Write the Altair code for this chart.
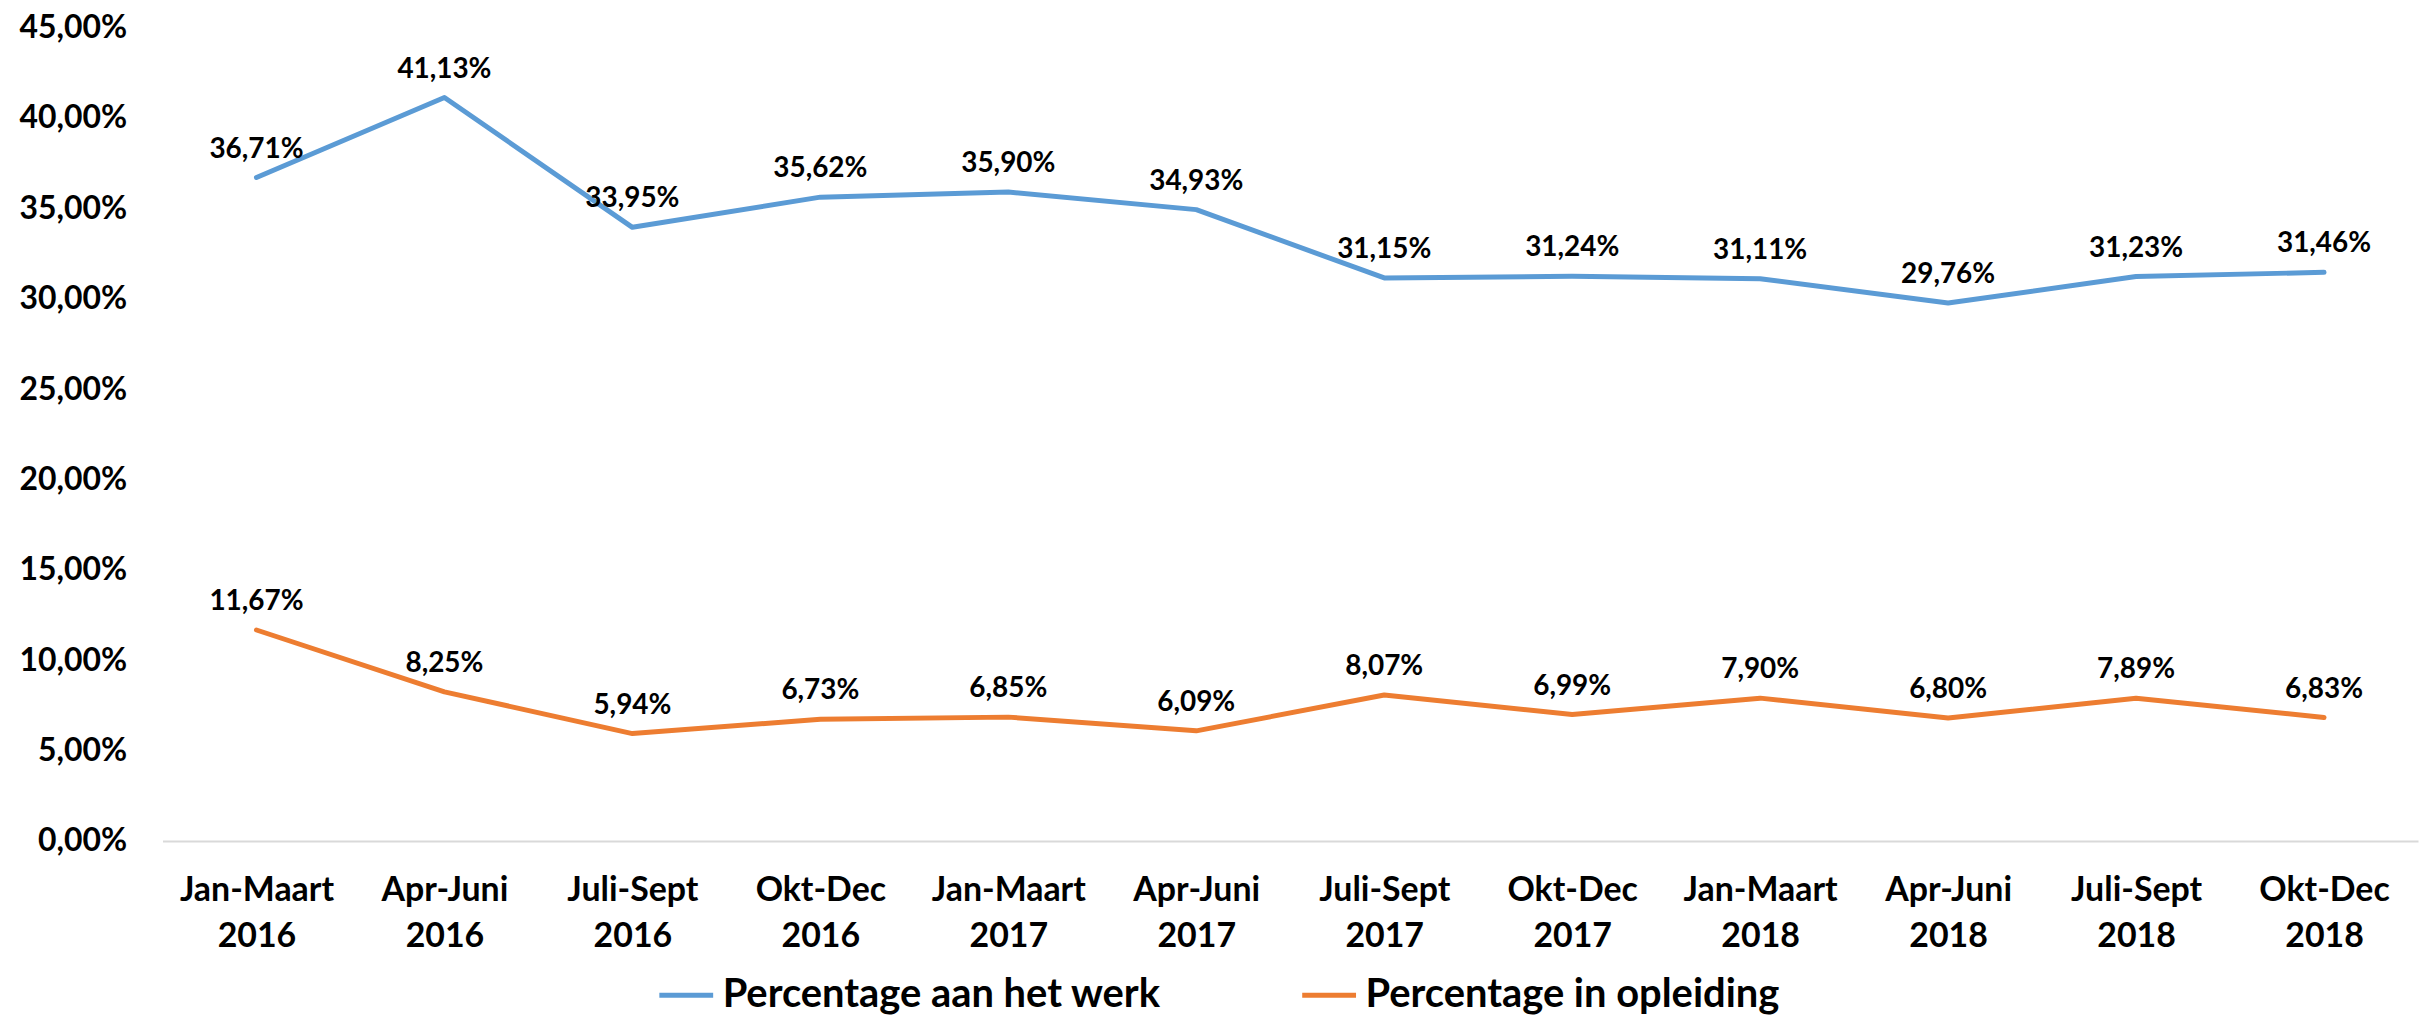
import altair as alt
import pandas as pd

categories = ["Jan-Maart 2016", "Apr-Juni 2016", "Juli-Sept 2016", "Okt-Dec 2016",
              "Jan-Maart 2017", "Apr-Juni 2017", "Juli-Sept 2017", "Okt-Dec 2017",
              "Jan-Maart 2018", "Apr-Juni 2018", "Juli-Sept 2018", "Okt-Dec 2018"]
werk = [36.71, 41.13, 33.95, 35.62, 35.90, 34.93, 31.15, 31.24, 31.11, 29.76, 31.23, 31.46]
opleiding = [11.67, 8.25, 5.94, 6.73, 6.85, 6.09, 8.07, 6.99, 7.90, 6.80, 7.89, 6.83]
series_names = ["Percentage aan het werk", "Percentage in opleiding"]
colors = ["#5B9BD5", "#ED7D31"]
y_ticks = [0, 5, 10, 15, 20, 25, 30, 35, 40, 45]

FONT = "Lato"

rows = []
for name, vals in zip(series_names, [werk, opleiding]):
    for c, v in zip(categories, vals):
        rows.append({"Kwartaal": c, "Waarde": v, "Reeks": name,
                     "Label": f"{v:.2f}".replace(".", ",") + "%"})
df = pd.DataFrame(rows)

x_enc = alt.X("Kwartaal:N", sort=categories, scale=alt.Scale(padding=0.5),
              axis=alt.Axis(title=None, labelExpr="split(datum.label, ' ')", labelAngle=0,
                            labelFontSize=34, labelFont=FONT, labelFontWeight="bold",
                            labelColor="black", labelPadding=33, labelLineHeight=46,
                            labelBaseline="top", ticks=False, domainColor="#D9D9D9",
                            domainWidth=2, grid=False))
y_enc = alt.Y("Waarde:Q", scale=alt.Scale(domain=[0, 45], nice=False),
              axis=alt.Axis(title=None, values=y_ticks,
                            labelExpr="replace(format(datum.value, '.2f'), '.', ',') + '%'",
                            grid=False, domain=False, ticks=False, labelPadding=36,
                            labelFontSize=32, labelFont=FONT, labelFontWeight="bold",
                            labelColor="black"))

color_enc = alt.Color("Reeks:N", scale=alt.Scale(domain=series_names, range=colors),
                      legend=alt.Legend(orient="none", legendX=496, legendY=941,
                                        direction="horizontal", title=None,
                                        symbolType="stroke", symbolStrokeWidth=5,
                                        symbolSize=2916, labelFontSize=40, labelFont=FONT,
                                        labelFontWeight="bold", labelColor="black",
                                        columnPadding=131, labelOffset=7, labelLimit=800))

base = alt.Chart(df).encode(x=x_enc, y=y_enc)

lines = base.mark_line(strokeWidth=5, strokeCap="round", strokeJoin="round").encode(color=color_enc)
texts = base.mark_text(dy=-20, baseline="alphabetic", fontSize=28, fontWeight="bold",
                       font=FONT, color="black").encode(text="Label:N", detail="Reeks:N")

chart = alt.layer(lines, texts).properties(
    width=2263, height=816,
    autosize=alt.AutoSizeParams(type="none"),
    padding={"left": 155, "top": 18, "right": 4, "bottom": 182},
    background="white",
).configure_view(stroke=None)

chart.save("out.html", embed_options={"renderer": "svg", "actions": False})
